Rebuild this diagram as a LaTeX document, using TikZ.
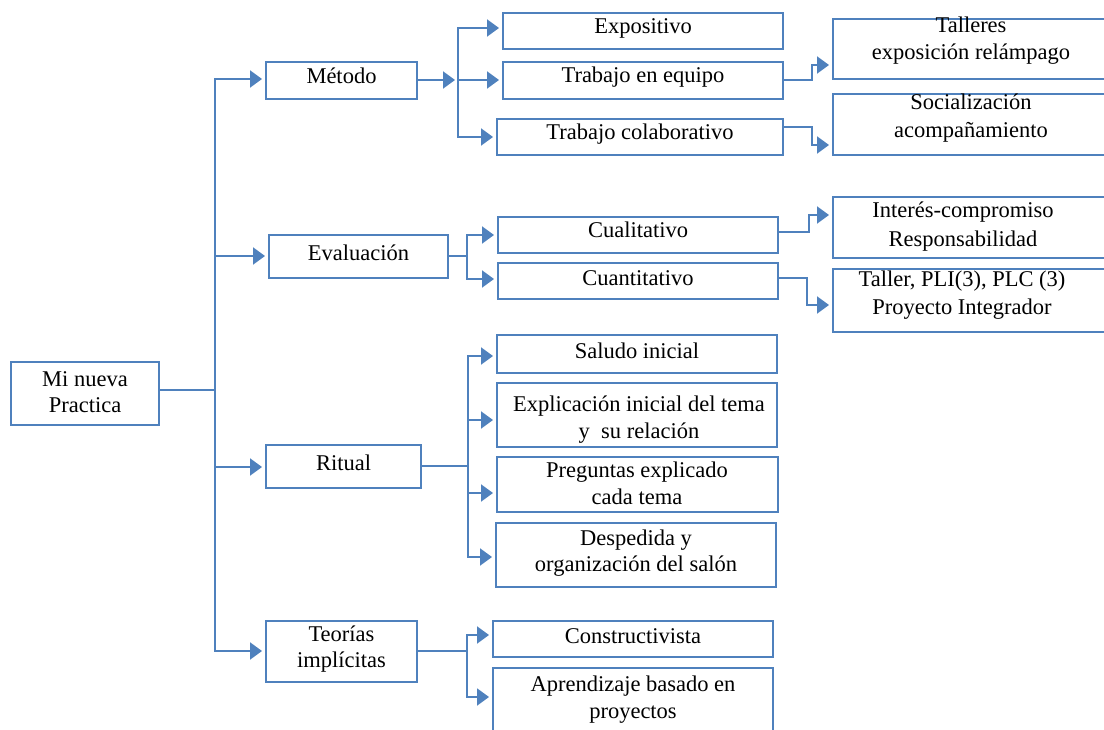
\documentclass[tikz,border=0pt]{standalone}
\usepackage{fontspec}
\setmainfont{Liberation Serif}
\usetikzlibrary{arrows.meta,fit}
\definecolor{bl}{RGB}{79,129,189}
\begin{document}
\begin{tikzpicture}[x=1pt,y=-1pt,
  box/.style={draw=bl,line width=2pt,inner sep=0pt,fill=white},
  ln/.style={draw=bl,line width=2pt},
  arr/.style={ln,-{Triangle[length=12pt,width=17pt]},shorten >=3pt},
  txt/.style={font=\fontsize{22.5}{27}\selectfont,anchor=base,inner sep=0pt}]
\useasboundingbox (0,0) rectangle (1104,730);
\clip (0,0) rectangle (1104,730);
\fill[white] (0,0) rectangle (1104,730);
% boxes
\node[box,fit={(11,362)(159,425)}] (root) {};
\node[box,fit={(266,62)(417,99)}] (metodo) {};
\node[box,fit={(269,235)(448,278)}] (evaluacion) {};
\node[box,fit={(266,445)(421,488)}] (ritual) {};
\node[box,fit={(266,621)(417,682)}] (teorias) {};
\node[box,fit={(503,13)(783,49)}] (expo) {};
\node[box,fit={(503,62)(783,99)}] (equipo) {};
\node[box,fit={(497,119)(783,155)}] (colab) {};
\node[box,fit={(833,19)(1110,79)}] (talleres) {};
\node[box,fit={(833,94)(1110,155)}] (soc) {};
\node[box,fit={(498,217)(778,253)}] (cual) {};
\node[box,fit={(498,263)(778,299)}] (cuant) {};
\node[box,fit={(833,197)(1110,258)}] (interes) {};
\node[box,fit={(833,269)(1110,332)}] (taller) {};
\node[box,fit={(497,335)(777,373)}] (saludo) {};
\node[box,fit={(497,383)(777,447)}] (explic) {};
\node[box,fit={(497,457)(778,512)}] (preg) {};
\node[box,fit={(496,523)(776,587)}] (desp) {};
\node[box,fit={(493,621)(773,657)}] (cons) {};
\node[box,fit={(493,668)(773,745)}] (aprend) {};
% texts
\node[txt] (t-root1) at (85,386) {Mi nueva};
\node[txt] (t-root2) at (85,412) {Practica};
\node[txt] (t-met) at (341.5,84) {Método};
\node[txt] (t-eval) at (358.5,261) {Evaluación};
\node[txt] (t-rit) at (343.5,470) {Ritual};
\node[txt] (t-teo1) at (341.5,641) {Teorías};
\node[txt] (t-teo2) at (341.5,667) {implícitas};
\node[txt] (t-expo) at (643,34) {Expositivo};
\node[txt] (t-equ) at (643,83) {Trabajo en equipo};
\node[txt] (t-col) at (640,140) {Trabajo colaborativo};
\node[txt] (t-tal1) at (971,33) {Talleres};
\node[txt] (t-tal2) at (971,60) {exposición relámpago};
\node[txt] (t-soc1) at (971,110) {Socialización};
\node[txt] (t-soc2) at (971,138) {acompañamiento};
\node[txt] (t-cual) at (638,238) {Cualitativo};
\node[txt] (t-cuant) at (638,286) {Cuantitativo};
\node[txt] (t-int1) at (963,218) {Interés-compromiso};
\node[txt] (t-int2) at (963,247) {Responsabilidad};
\node[txt] (t-tll1) at (962,287) {Taller, PLI(3), PLC (3)};
\node[txt] (t-tll2) at (962,315) {Proyecto Integrador};
\node[txt] (t-sal) at (637,358) {Saludo inicial};
\node[txt] (t-exp1) at (639,411) {Explicación inicial del tema};
\node[txt] (t-exp2) at (639,438) {y~ su relación};
\node[txt] (t-pre1) at (637,477) {Preguntas explicado};
\node[txt] (t-pre2) at (637,504) {cada tema};
\node[txt] (t-des1) at (636,545) {Despedida y};
\node[txt] (t-des2) at (636,571) {organización del salón};
\node[txt] (t-con) at (633,643) {Constructivista};
\node[txt] (t-apr1) at (633,691) {Aprendizaje basado en};
\node[txt] (t-apr2) at (633,718) {proyectos};
% trunk
\draw[ln] (root.east |- 0,390) -- (215,390);
\draw[arr] (215,400) -- (215,79) -- (metodo.west |- 0,79);
\draw[arr] (215,380) -- (215,651) -- (teorias.west |- 0,651);
\draw[arr] (215,256) -- (evaluacion.west |- 0,256);
\draw[arr] (215,467) -- (ritual.west |- 0,467);
% metodo
\draw[arr] (metodo.east |- 0,80) -- (458,80);
\draw[arr] (458,80) -- (458,28) -- (expo.west |- 0,28);
\draw[arr] (458,80) -- (458,137) -- (colab.west |- 0,137);
\draw[arr] (458,80) -- (equipo.west |- 0,80);
\draw[arr] (equipo.east |- 0,80) -- (812,80) -- (812,65) -- (talleres.west |- 0,65);
\draw[arr] (colab.east |- 0,127) -- (812,127) -- (812,145) -- (soc.west |- 0,145);
% evaluacion
\draw[ln] (evaluacion.east |- 0,256) -- (467,256);
\draw[arr] (467,256) -- (467,235) -- (cual.west |- 0,235);
\draw[arr] (467,256) -- (467,279) -- (cuant.west |- 0,279);
\draw[arr] (cual.east |- 0,232) -- (809,232) -- (809,215) -- (interes.west |- 0,215);
\draw[arr] (cuant.east |- 0,278) -- (807,278) -- (807,305) -- (taller.west |- 0,305);
% ritual
\draw[ln] (ritual.east |- 0,466) -- (468,466);
\draw[arr] (468,466) -- (468,356) -- (saludo.west |- 0,356);
\draw[arr] (468,466) -- (468,557) -- (desp.west |- 0,557);
\draw[arr] (468,420) -- (explic.west |- 0,420);
\draw[arr] (468,493) -- (preg.west |- 0,493);
% teorias
\draw[ln] (teorias.east |- 0,651) -- (467,651);
\draw[arr] (467,651) -- (467,635) -- (cons.west |- 0,635);
\draw[arr] (467,651) -- (467,697) -- (aprend.west |- 0,697);
\end{tikzpicture}
\end{document}
